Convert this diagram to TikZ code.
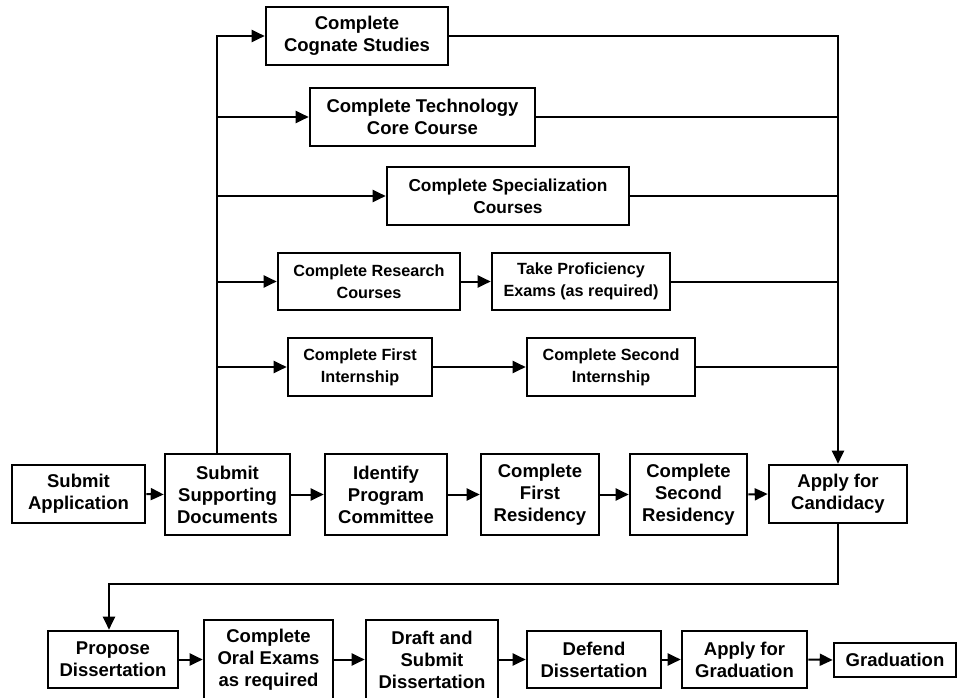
\documentclass[tikz,border=0pt]{standalone}
\usepackage{fontspec}
\setmainfont{Liberation Sans}
\usetikzlibrary{arrows.meta}
\tikzset{
	box/.style={draw, line width=2.6pt, align=center, inner sep=0pt, font=\fontsize{18.5}{22}\selectfont\bfseries},
	smallbox/.style={box, font=\fontsize{16.2}{22}\selectfont\bfseries},
	flow/.style={line width=2pt, -{Triangle[length=13pt,width=12pt]}},
	link/.style={line width=2pt}
}
\begin{document}
\begin{tikzpicture}[x=1pt, y=-1pt]
	\useasboundingbox (0,0) rectangle (964,698);
	\node[box, minimum width=182pt, minimum height=58pt] (cog) at (357,36) {Complete\\Cognate Studies};
	\node[box, minimum width=225pt, minimum height=58pt] (tech) at (422.5,117) {Complete Technology\\Core Course};
	\node[box, font=\fontsize{17.3}{22}\selectfont\bfseries, minimum width=242pt, minimum height=58pt] (spec) at (508,196) {Complete Specialization\\Courses};
	\node[smallbox, minimum width=182pt, minimum height=57pt] (rsch) at (369,281.5) {Complete Research\\Courses};
	\node[smallbox, minimum width=178pt, minimum height=57pt] (prof) at (581,281.5) {Take Proficiency\\Exams (as required)};
	\node[smallbox, minimum width=144pt, minimum height=58pt] (int1) at (360,367) {Complete First\\Internship};
	\node[smallbox, minimum width=168pt, minimum height=58pt] (int2) at (611,367) {Complete Second\\Internship};
	
	\node[box, minimum width=133pt, minimum height=58pt] (appl) at (78.5,494) {Submit\\Application};
	\node[box, minimum width=125pt, minimum height=81pt] (docs) at (227.5,494.5) {Submit\\Supporting\\Documents};
	\node[box, minimum width=122pt, minimum height=81pt] (comm) at (386,494.5) {Identify\\Program\\Committee};
	\node[box, minimum width=118pt, minimum height=81pt] (res1) at (540,494.5) {Complete\\First\\Residency};
	\node[box, minimum width=117pt, minimum height=81pt] (res2) at (688.5,494.5) {Complete\\Second\\Residency};
	\node[box, minimum width=138pt, minimum height=58pt] (cand) at (838,494) {Apply for\\Candidacy};
	
	\node[box, minimum width=130pt, minimum height=57pt] (prop) at (113,659.5) {Propose\\Dissertation};
	\node[box, minimum width=129pt, minimum height=80pt] (oral) at (268.5,660) {Complete\\Oral Exams\\as required};
	\node[box, minimum width=132pt, minimum height=80pt] (draft) at (432,660) {Draft and\\Submit\\Dissertation};
	\node[box, minimum width=134pt, minimum height=57pt] (dfnd) at (594,659.5) {Defend\\Dissertation};
	\node[box, minimum width=125pt, minimum height=57pt] (agrd) at (744.5,659.5) {Apply for\\Graduation};
	\node[box, minimum width=122pt, minimum height=34pt] (grad) at (895,660) {Graduation};
	
	\coordinate (trunk) at (217,36);
	\coordinate (turn) at (109,584);
	
	\draw[flow] (docs.north -| trunk) -- (trunk) -- (cog.west);
	\draw[flow] (trunk |- tech) -- (tech.west);
	\draw[flow] (trunk |- spec) -- (spec.west);
	\draw[flow] (trunk |- rsch) -- (rsch.west);
	\draw[flow] (trunk |- int1) -- (int1.west);
	\draw[flow] (rsch.east) -- (prof.west);
	\draw[flow] (int1.east) -- (int2.west);
	
	\draw[flow] (cog.east) -| (cand.north);
	\draw[link] (tech.east) -- (tech.east -| cand.north);
	\draw[link] (spec.east) -- (spec.east -| cand.north);
	\draw[link] (prof.east) -- (prof.east -| cand.north);
	\draw[link] (int2.east) -- (int2.east -| cand.north);
	
	\draw[flow] (appl.east) -- (docs.west);
	\draw[flow] (docs.east) -- (comm.west);
	\draw[flow] (comm.east) -- (res1.west);
	\draw[flow] (res1.east) -- (res2.west);
	\draw[flow] (res2.east) -- (cand.west);
	
	\draw[flow] (cand.south) |- (turn) -- (turn |- prop.north);
	\draw[flow] (prop.east) -- (oral.west |- prop.east);
	\draw[flow] (oral.east |- prop.east) -- (draft.west |- prop.east);
	\draw[flow] (draft.east |- prop.east) -- (dfnd.west);
	\draw[flow] (dfnd.east) -- (agrd.west);
	\draw[flow] (agrd.east) -- (grad.west);
\end{tikzpicture}
\end{document}
